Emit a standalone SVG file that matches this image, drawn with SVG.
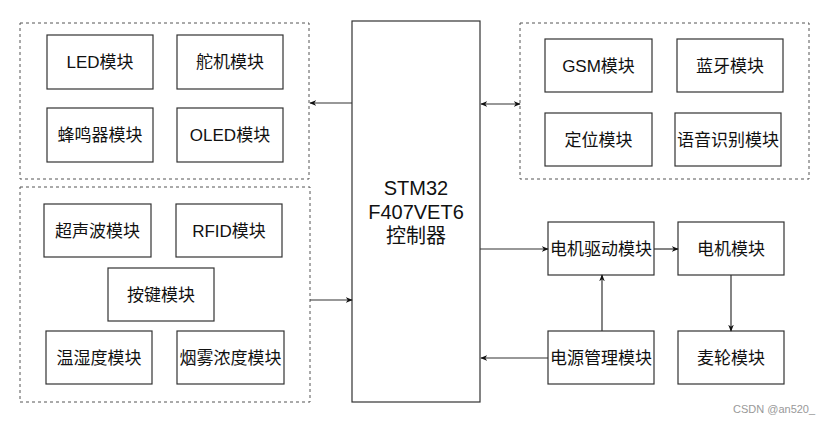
<svg xmlns="http://www.w3.org/2000/svg" width="831" height="424" viewBox="0 0 831 424">
<style>
.grp{fill:none;stroke:#555;stroke-width:1;stroke-dasharray:3 3}
.box{fill:#fff;stroke:#333;stroke-width:1.2}
.t{font-family:"Liberation Sans","Noto Sans CJK SC",sans-serif;font-size:17px;fill:#111;text-anchor:middle;dominant-baseline:central}
.big{font-size:20px}
.ln{fill:none;stroke:#333;stroke-width:1.2}
</style>
<defs>
<marker id="ah" viewBox="0 0 10 10" refX="9" refY="5" markerWidth="7" markerHeight="7" orient="auto-start-reverse" markerUnits="userSpaceOnUse">
<path d="M0,1 L10,5 L0,9 L3,5 Z" fill="#111"/>
</marker>
</defs>
<rect width="831" height="424" fill="#fff"/>
<g id="groups">
<rect class="grp" x="20" y="23" width="289" height="156"/>
<rect class="grp" x="20" y="187" width="290" height="215"/>
<rect class="grp" x="520" y="23" width="289" height="156"/>
</g>
<g id="stm32"><rect class="box" x="352" y="21" width="128" height="381"/>
<text class="t big" x="416" y="188">STM32</text>
<text class="t big" x="416" y="212">F407VET6</text>
<text class="t big" x="416" y="236">控制器</text></g>
<g id="led"><rect class="box" x="47" y="35" width="106" height="54"/><text class="t" x="100" y="62">LED模块</text></g>
<g id="servo"><rect class="box" x="177" y="35" width="106" height="54"/><text class="t" x="230" y="62">舵机模块</text></g>
<g id="buzzer"><rect class="box" x="47" y="108" width="106" height="54"/><text class="t" x="100" y="135">蜂鸣器模块</text></g>
<g id="oled"><rect class="box" x="177" y="108" width="106" height="54"/><text class="t" x="230" y="135">OLED模块</text></g>
<g id="ultrasonic"><rect class="box" x="44" y="204" width="107" height="53"/><text class="t" x="97.5" y="231">超声波模块</text></g>
<g id="rfid"><rect class="box" x="176" y="204" width="106" height="53"/><text class="t" x="229" y="231">RFID模块</text></g>
<g id="key"><rect class="box" x="108" y="268" width="106" height="53"/><text class="t" x="161" y="295">按键模块</text></g>
<g id="dht"><rect class="box" x="46" y="331" width="106" height="53"/><text class="t" x="99" y="358">温湿度模块</text></g>
<g id="smoke"><rect class="box" x="177" y="331" width="107" height="53"/><text class="t" x="230.5" y="358">烟雾浓度模块</text></g>
<g id="gsm"><rect class="box" x="545" y="39" width="107" height="53"/><text class="t" x="598.5" y="66">GSM模块</text></g>
<g id="bt"><rect class="box" x="677" y="39" width="106" height="53"/><text class="t" x="730" y="66">蓝牙模块</text></g>
<g id="gps"><rect class="box" x="545" y="113" width="107" height="53"/><text class="t" x="598.5" y="140">定位模块</text></g>
<g id="voice"><rect class="box" x="675" y="113" width="106" height="53"/><text class="t" x="728" y="140">语音识别模块</text></g>
<g id="driver"><rect class="box" x="548" y="222" width="106" height="53"/><text class="t" x="601" y="249">电机驱动模块</text></g>
<g id="motor"><rect class="box" x="678" y="222" width="106" height="53"/><text class="t" x="731" y="249">电机模块</text></g>
<g id="power"><rect class="box" x="548" y="331" width="106" height="53"/><text class="t" x="601" y="358">电源管理模块</text></g>
<g id="wheel"><rect class="box" x="678" y="331" width="106" height="53"/><text class="t" x="731" y="358">麦轮模块</text></g>
<g id="connectors">
<line class="ln" x1="352" y1="103" x2="310" y2="103" marker-end="url(#ah)"/>
<line class="ln" x1="310" y1="300" x2="352" y2="300" marker-end="url(#ah)"/>
<line class="ln" x1="481" y1="104" x2="520" y2="104" marker-start="url(#ah)" marker-end="url(#ah)"/>
<line class="ln" x1="480" y1="249" x2="548" y2="249" marker-end="url(#ah)"/>
<line class="ln" x1="654" y1="249" x2="678" y2="249" marker-end="url(#ah)"/>
<line class="ln" x1="602" y1="331" x2="602" y2="275" marker-end="url(#ah)"/>
<line class="ln" x1="731" y1="275" x2="731" y2="331" marker-end="url(#ah)"/>
<line class="ln" x1="548" y1="358" x2="481" y2="358" marker-end="url(#ah)"/>
</g>
<text x="733" y="413" style="font-family:'Liberation Sans',sans-serif;font-size:11px;fill:#999">CSDN @an520_</text>
</svg>
